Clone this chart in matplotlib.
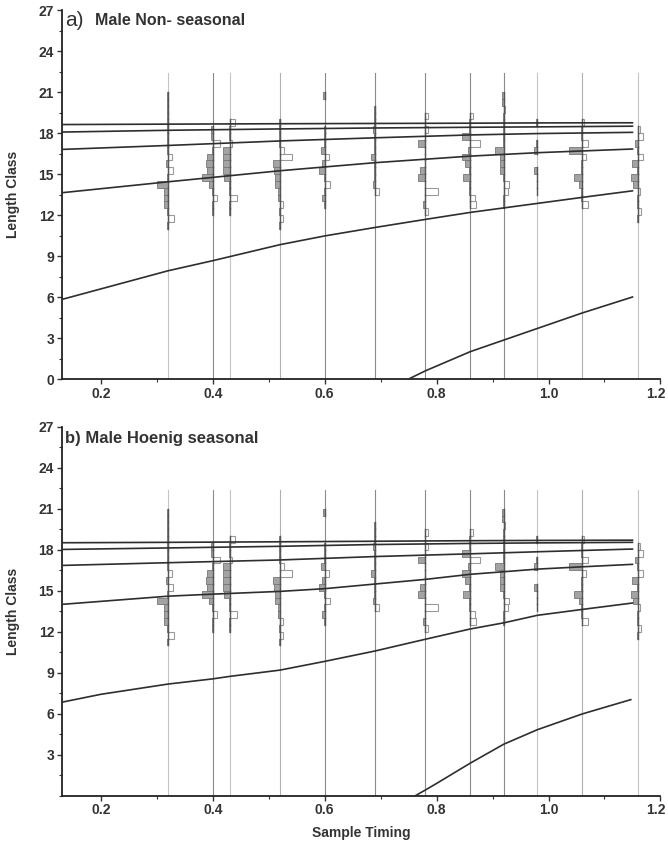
import matplotlib.pyplot as plt
from matplotlib.ticker import MultipleLocator
from matplotlib.transforms import ScaledTranslation
import numpy as np

# sampling dates (fraction of year) and length classes (lower bin edges)
sample_times = [0.32, 0.40, 0.43, 0.52, 0.60, 0.69, 0.78, 0.86, 0.92, 0.98, 1.06, 1.16]
length_bins = [11.0, 11.5, 12.0, 12.5, 13.0, 13.5, 14.0, 14.5, 15.0, 15.5,
               16.0, 16.5, 17.0, 17.5, 18.0, 18.5, 19.0, 19.5, 20.0, 20.5]

# restructured frequencies per sample (positive = peak, negative = trough)
rs_032 = [0.15, -1.1, 0.15, 0.8, 0.8, 0.8, 2.0, 0.15, -0.9, 0.4, -0.7, 0.15, 0.15, 0.15, 0.15, 0.15, 0.15, 0.15, 0.15, 0.15]
rs_040 = [0, 0, 0.15, 0.15, -0.8, 0.15, 0.6, 2.0, 1.0, 1.2, 1.1, 0.15, -1.2, 0.3, 0.3, 0, 0, 0, 0, 0]
rs_043 = [0, 0, 0.15, 0.15, -1.4, 0.15, 0.15, 1.0, 1.2, 1.2, 1.2, 1.2, -0.5, 0.15, 0.15, -1.0, 0, 0, 0, 0]
rs_052 = [0.15, -0.6, 0.15, -0.6, 0.4, 0.4, 0.8, 0.8, 1.0, 1.2, -2.1, -0.7, 0.15, 0.15, 0.15, 0.15, 0, 0, 0, 0]
rs_060 = [0, 0, 0, 0.15, 0.4, 0.15, -0.9, 0.15, 1.1, 0.5, -0.8, 0.6, 0.15, 0.15, 0.15, 0, 0, 0, 0, 0.3]
rs_069 = [0, 0, 0, 0, 0, -0.7, 0.3, 0.15, 0.15, 0.15, 0.7, 0.15, 0.15, 0.15, 0.4, 0.15, 0.15, 0.15, 0, 0]
rs_078 = [0, 0, -0.4, 0.5, 0.15, -2.2, 0.15, 1.4, 0.9, 0.15, 0.15, 0.15, 1.4, 0.15, -0.4, 0.15, -0.4, 0, 0, 0]
rs_086 = [0, 0, 0, -1.1, -0.9, 0.15, 0.15, 1.3, 0.15, 1.0, 1.4, 0.4, -1.7, 1.4, 0.15, 0.15, -0.5, 0, 0, 0]
rs_092 = [0, 0, 0, 0.15, 0.15, -0.7, -0.9, 0.15, 0.7, 0.7, 0.7, 1.5, 0.15, 0.15, 0.15, 0.15, 0.15, -0.3, 0.3, 0.3]
rs_098 = [0, 0, 0, 0, 0, 0.15, 0.15, 0.15, 0.6, 0, 0, 0.6, 0.3, 0, 0, 0.3, 0, 0, 0, 0]
rs_106 = [0, 0, 0, -1.0, 0.15, 0.15, 0.6, 1.4, 0.15, 0.15, -0.7, 2.3, -1.1, 0.15, 0.15, -0.4, 0, 0, 0, 0]
rs_116 = [0, 0.15, -0.6, 0.15, 0.15, -0.3, 0.9, 1.2, 0.15, 1.0, -0.8, 0.15, 0.5, -0.9, -0.3, 0, 0, 0, 0, 0]
restructured = [rs_032, rs_040, rs_043, rs_052, rs_060, rs_069,
                rs_078, rs_086, rs_092, rs_098, rs_106, rs_116]

# growth curves, panel a (non-seasonal)
a_x = [0.13, 0.32, 0.52, 0.69, 0.86, 0.98, 1.15]
a_c1 = [18.62, 18.65, 18.68, 18.70, 18.72, 18.74, 18.75]
a_c2 = [18.07, 18.20, 18.30, 18.37, 18.42, 18.45, 18.50]
a_c3 = [16.80, 17.09, 17.42, 17.65, 17.86, 17.96, 18.05]
a_c4 = [13.63, 14.43, 15.24, 15.83, 16.31, 16.56, 16.83]
a_c5_x = [0.13, 0.32, 0.40, 0.52, 0.60, 0.69, 0.78, 0.86, 0.98, 1.06, 1.15]
a_c5 = [5.82, 7.92, 8.66, 9.83, 10.47, 11.09, 11.68, 12.19, 12.85, 13.29, 13.77]
a_c6_x = [0.75, 0.78, 0.86, 0.92, 0.98, 1.06, 1.15]
a_c6 = [0.0, 0.6, 2.0, 2.85, 3.7, 4.83, 6.0]

# growth curves, panel b (Hoenig seasonal)
b_x = [0.13, 0.32, 0.52, 0.69, 0.86, 0.98, 1.15]
b_c1 = [18.51, 18.54, 18.58, 18.62, 18.66, 18.68, 18.70]
b_c2 = [18.02, 18.13, 18.25, 18.38, 18.46, 18.50, 18.54]
b_c3 = [16.85, 17.05, 17.25, 17.50, 17.70, 17.85, 18.05]
b_c4_x = [0.13, 0.32, 0.40, 0.52, 0.60, 0.69, 0.78, 0.86, 0.92, 0.98, 1.06, 1.15]
b_c4 = [14.0, 14.6, 14.75, 14.95, 15.15, 15.49, 15.83, 16.2, 16.39, 16.58, 16.75, 16.93]
b_c5_x = [0.13, 0.20, 0.32, 0.40, 0.43, 0.52, 0.60, 0.69, 0.78, 0.86, 0.92, 0.98, 1.06, 1.15]
b_c5 = [6.84, 7.42, 8.17, 8.55, 8.73, 9.19, 9.83, 10.59, 11.45, 12.2, 12.65, 13.2, 13.63, 14.1]
b_c6_x = [0.762, 0.78, 0.80, 0.86, 0.92, 0.98, 1.06, 1.147]
b_c6 = [0.0, 0.42, 0.9, 2.38, 3.77, 4.83, 5.98, 7.03]

panels = [
    ("a)", "Male Non- seasonal",
     [(a_x, a_c1), (a_x, a_c2), (a_x, a_c3), (a_x, a_c4), (a_c5_x, a_c5), (a_c6_x, a_c6)]),
    ("b)", "Male Hoenig seasonal",
     [(b_x, b_c1), (b_x, b_c2), (b_x, b_c3), (b_c4_x, b_c4), (b_c5_x, b_c5), (b_c6_x, b_c6)]),
]

line_shade = ['#c4c4c4', '#8a8a8a', '#c4c4c4', '#b0b0b0', '#8a8a8a', '#8a8a8a',
              '#8a8a8a', '#8a8a8a', '#8a8a8a', '#c4c4c4', '#b0b0b0', '#c4c4c4']
bar_scale = 0.01
bin_h = 0.5
txt = '#333333'

plt.rcParams['font.family'] = ['Liberation Sans', 'DejaVu Sans']

fig = plt.figure(figsize=(6.68, 8.43), dpi=100)
ax_a = fig.add_axes([0.0924, 0.5504, 0.8963, 0.4377])
ax_b = fig.add_axes([0.0924, 0.0561, 0.8963, 0.4377])

for ax, (tag, name, curves) in zip([ax_a, ax_b], panels):
    # sample lines
    for t, shade in zip(sample_times, line_shade):
        ax.plot([t, t], [0, 22.4], color=shade, lw=0.8, zorder=1)
    # restructured histograms
    for t, vals in zip(sample_times, restructured):
        for lo, v in zip(length_bins, vals):
            if v == 0:
                continue
            if v > 0:
                ax.barh(lo, -v * bar_scale, height=bin_h, left=t, align='edge',
                        color='#a3a3a3', edgecolor='#777777', lw=0.6, zorder=2)
            else:
                ax.barh(lo, -v * bar_scale, height=bin_h, left=t, align='edge',
                        color='white', edgecolor='#9a9a9a', lw=0.8, zorder=2)
            ax.plot([t, t], [lo, lo + bin_h], color='#555555', lw=1.0, zorder=3)
    # growth curves
    for cx, cy in curves:
        ax.plot(cx, cy, color='#2e2e2e', lw=1.2, zorder=4)

    ax.set_xlim(0.13, 1.2)
    ax.set_ylim(0, 27)
    ax.xaxis.set_minor_locator(MultipleLocator(0.1))
    ax.yaxis.set_minor_locator(MultipleLocator(1.5))
    ax.set_xticks([0.2, 0.4, 0.6, 0.8, 1.0, 1.2])
    ax.set_xticklabels(['0.2', '0.4', '0.6', '0.8', '1.0', '1.2'])
    for s in ['top', 'right']:
        ax.spines[s].set_visible(False)
    for s in ['left', 'bottom']:
        ax.spines[s].set_linewidth(1.3)
        ax.spines[s].set_color('#222222')
    ax.tick_params(which='major', length=3.5, width=1, color='#333333', labelsize=10,
                   labelcolor=txt, pad=2)
    ax.tick_params(which='minor', length=2, width=0.8, color='#333333')
    ax.set_ylabel('Length Class', fontsize=10, fontweight='bold', color=txt)
    ax.yaxis.set_label_coords(-0.07, 0.5)

ax_a.set_yticks(range(0, 28, 3))
ax_b.set_yticks(range(3, 28, 3))
for ax in (ax_a, ax_b):
    for lab in ax.get_xticklabels() + ax.get_yticklabels():
        lab.set_fontweight('bold')
    # keep the last x label inside the canvas
    last = ax.get_xticklabels()[-1]
    last.set_transform(last.get_transform() + ScaledTranslation(-5 / 100, 0, fig.dpi_scale_trans))

ax_a.text(0.006, 0.972, 'a)', transform=ax_a.transAxes, fontsize=15, color=txt,
          va='center', ha='left')
ax_a.text(0.056, 0.972, 'Male Non- seasonal', transform=ax_a.transAxes, fontsize=11.5,
          fontweight='bold', color=txt, va='center', ha='left')
ax_b.text(0.006, 0.969, 'b) Male Hoenig seasonal', transform=ax_b.transAxes, fontsize=12,
          fontweight='bold', color=txt, va='center', ha='left')

ax_b.set_xlabel('Sample Timing', fontsize=10, fontweight='bold', color=txt)
ax_b.xaxis.set_label_coords(0.5, -0.082)

fig.savefig('out.png', dpi=100)
